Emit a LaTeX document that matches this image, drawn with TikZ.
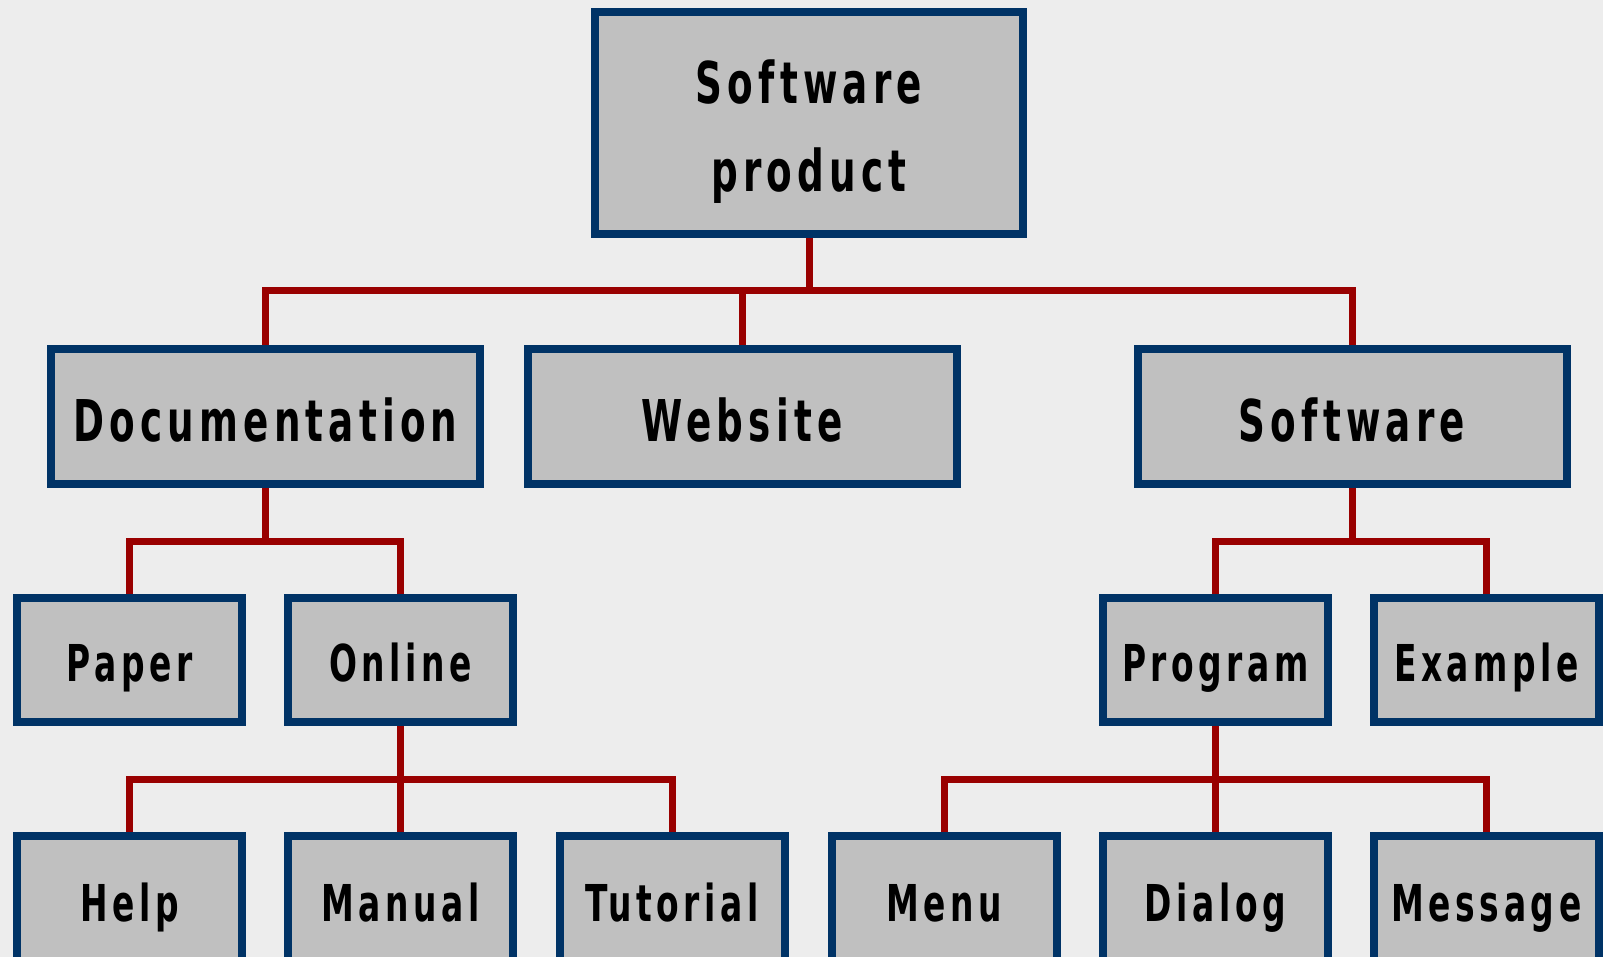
\documentclass[tikz,border=0pt]{standalone}
\usepackage{fontspec}
\usepackage{tikz}
\usetikzlibrary{backgrounds}

\newfontfamily\boxfont{DejaVu Sans Condensed}[BoldFont={* Bold}, FakeStretch=0.72, LetterSpace=9]

\definecolor{boxfill}{HTML}{C0C0C0}
\definecolor{boxline}{HTML}{003366}
\definecolor{linkred}{HTML}{990000}
\definecolor{paper}{HTML}{EDEDED}

\tikzset{
	item/.style={draw=boxline, fill=boxfill, line width=8pt, inner sep=0pt,
		text height=42pt, text depth=0pt, text=black,
		font=\boxfont\bfseries\fontsize{50.8}{60}\selectfont},
	rootbox/.style={draw=boxline, fill=boxfill, line width=8pt, inner sep=0pt,
		minimum width=428pt, minimum height=222pt, text=black,
		font=\boxfont\bfseries\fontsize{57.6}{88}\selectfont},
	headbox/.style={item, minimum width=429pt, minimum height=135pt, text height=49pt,
		font=\boxfont\bfseries\fontsize{57.6}{60}\selectfont},
	leafbox/.style={item, minimum width=225pt, minimum height=124pt},
	lowbox/.style={leafbox, minimum height=128pt},
	link/.style={draw=linkred, line width=7pt},
}

\begin{document}
\begin{tikzpicture}[x=1pt, y=-1pt]
	\useasboundingbox (0,0) rectangle (1603,957);
	\clip (0,0) rectangle (1603,957);
	
	\node[rootbox] (root) at (809,123)
		{\begin{tabular}{@{}c@{}}\rule{0pt}{76pt}Software\\product\end{tabular}};
	
	\node[headbox] (doc) at (265.5,416.5) {Documentation};
	\node[headbox] (web) at (742,416.5) {Website};
	\node[headbox] (soft) at (1352,416.5) {Software};
	
	\node[leafbox] (paper) at (129.5,660) {Paper};
	\node[leafbox] (online) at (400.5,660) {Online};
	\node[leafbox] (program) at (1215.5,660) {Program};
	\node[leafbox] (example) at (1486.5,660) {Example};
	
	\node[lowbox] (help) at (129.5,900) {Help};
	\node[lowbox] (manual) at (400.5,900) {Manual};
	\node[lowbox] (tutorial) at (672,900) {Tutorial};
	\node[lowbox] (menu) at (944.5,900) {Menu};
	\node[lowbox] (dialog) at (1215.5,900) {Dialog};
	\node[lowbox] (message) at (1486.5,900) {Message};
	
	\coordinate (bus0) at (809,291);
	\coordinate (bus1) at (265.5,541);
	\coordinate (bus2) at (1352,541);
	\coordinate (bus3) at (400.5,779);
	\coordinate (bus4) at (1215.5,779);
	
	\begin{scope}[on background layer]
		\fill[paper] (0,0) rectangle (1603,957);
		
		\draw[link] (root.south) -- (bus0);
		\draw[link] (doc.north) |- (bus0) -| (soft.north);
		\draw[link] (web.north) -- (web.north |- bus0);
		
		\draw[link] (doc.south) -- (bus1);
		\draw[link] (paper.north) |- (bus1) -| (online.north);
		
		\draw[link] (soft.south) -- (bus2);
		\draw[link] (program.north) |- (bus2) -| (example.north);
		
		\draw[link] (online.south) -- (manual.north);
		\draw[link] (help.north) |- (bus3) -| (tutorial.north);
		
		\draw[link] (program.south) -- (dialog.north);
		\draw[link] (menu.north) |- (bus4) -| (message.north);
	\end{scope}
\end{tikzpicture}
\end{document}
